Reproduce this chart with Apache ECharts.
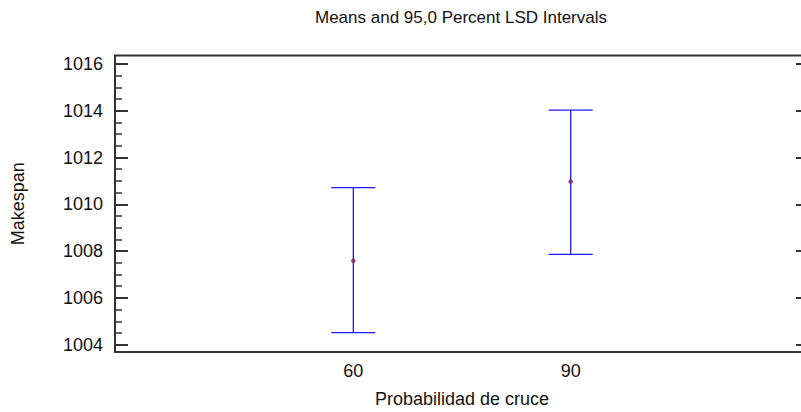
<!DOCTYPE html>
<html>
<head>
<meta charset="utf-8">
<script src="https://cdn.jsdelivr.net/npm/echarts@6/dist/echarts.min.js"></script>
<style>html,body{margin:0;padding:0;background:#fff}#c{width:801px;height:412px}</style>
</head>
<body>
<div id="c"></div>
<script>
const titleText = 'Means and 95,0 Percent LSD Intervals';
const xName = 'Probabilidad de cruce';
const yName = 'Makespan';
const categories = [60, 90];
const means = [1007.59, 1010.97];
const lower = [1004.52, 1007.86];
const upper = [1010.71, 1014.03];
const yTicks = [1004, 1006, 1008, 1010, 1012, 1014, 1016];
const yMinorTicks = [1004, 1004.5, 1005, 1005.5, 1006, 1006.5, 1007, 1007.5, 1008, 1008.5, 1009, 1009.5, 1010, 1010.5, 1011, 1011.5, 1012, 1012.5, 1013, 1013.5, 1014, 1014.5, 1015, 1015.5, 1016];

const FONT = 'Liberation Sans, Arial, sans-serif';
const Y_MIN = 1003.69, Y_MAX = 1016.36;
const X_MIN = 27.1, X_MAX = 122.9;

const chart = echarts.init(document.getElementById('c'), null, {renderer: 'svg'});
const intervals = categories.map((c, i) => [c, lower[i], upper[i]]);
const meanPts = categories.map((c, i) => [c, means[i]]);

chart.setOption({
  animation: false,
  backgroundColor: '#ffffff',
  graphic: [{
    type: 'text', x: 461, y: 17,
    style: {text: titleText, font: '17px ' + FONT, fill: '#111', textAlign: 'center', textVerticalAlign: 'middle'}
  }],
  grid: {left: 115, top: 55.5, width: 694, height: 296.5, outerBoundsMode: 'none', containLabel: false,
         show: true, borderColor: '#333', borderWidth: 2, backgroundColor: 'transparent'},
  xAxis: {
    type: 'value', min: X_MIN, max: X_MAX,
    name: xName, nameLocation: 'middle', nameGap: 38,
    nameTextStyle: {fontFamily: FONT, fontSize: 18, color: '#111'},
    axisLine: {show: false}, axisTick: {show: false}, splitLine: {show: false},
    axisLabel: {customValues: categories, fontFamily: FONT, fontSize: 18, color: '#111', margin: 10,
                formatter: v => String(v)}
  },
  yAxis: [
    {
      type: 'value', min: Y_MIN, max: Y_MAX, position: 'left',
      name: yName, nameLocation: 'middle', nameGap: 88, nameRotate: 90,
      nameTextStyle: {fontFamily: FONT, fontSize: 18, color: '#111'},
      axisLine: {show: false}, splitLine: {show: false},
      axisTick: {show: true, inside: true, length: 13, customValues: yTicks, lineStyle: {color: '#333', width: 2}},
      axisLabel: {customValues: yTicks, fontFamily: FONT, fontSize: 18, color: '#111', margin: 12,
                  formatter: v => String(Math.round(v))}
    },
    {
      type: 'value', min: Y_MIN, max: Y_MAX, position: 'left',
      axisLine: {show: false}, splitLine: {show: false}, axisLabel: {show: false},
      axisTick: {show: true, inside: true, length: 7, customValues: yMinorTicks, lineStyle: {color: '#333', width: 1.5}}
    },
    {
      type: 'value', min: Y_MIN, max: Y_MAX, position: 'right',
      axisLine: {show: false}, splitLine: {show: false}, axisLabel: {show: false},
      axisTick: {show: true, inside: true, length: 13, customValues: yTicks, lineStyle: {color: '#333', width: 2}}
    }
  ],
  series: [
    {
      type: 'custom',
      data: intervals,
      renderItem: function (params, api) {
        const x = api.value(0);
        const lo = api.coord([x, api.value(1)]);
        const hi = api.coord([x, api.value(2)]);
        const hw = 22;
        const st = {stroke: '#1a1aff', lineWidth: 1.3};
        return {
          type: 'group',
          children: [
            {type: 'line', shape: {x1: lo[0], y1: lo[1], x2: hi[0], y2: hi[1]}, style: st},
            {type: 'line', shape: {x1: lo[0] - hw, y1: lo[1], x2: lo[0] + hw, y2: lo[1]}, style: st},
            {type: 'line', shape: {x1: hi[0] - hw, y1: hi[1], x2: hi[0] + hw, y2: hi[1]}, style: st}
          ]
        };
      }
    },
    {
      type: 'scatter',
      data: meanPts,
      symbol: 'circle', symbolSize: 4,
      itemStyle: {color: '#8a1f4a', borderColor: '#6a1040', borderWidth: 0.5},
      z: 5
    }
  ]
});
</script>
</body>
</html>
